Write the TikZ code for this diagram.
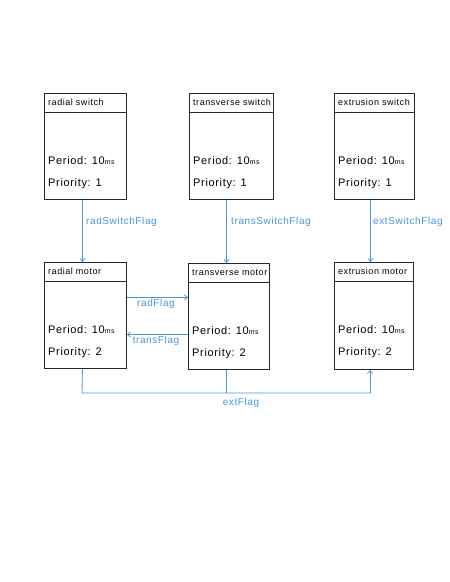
\documentclass[tikz,border=0pt]{standalone}
\usepackage{fontspec}
\setmainfont{Liberation Sans}
\newfontfamily\hand[LetterSpace=6]{Liberation Sans}
\usetikzlibrary{arrows.meta}
\definecolor{flowblue}{RGB}{74,150,220}
\tikzset{
  x=1pt,y=-1pt,
  taskframe/.style={draw=black!85,line width=0.9pt,anchor=north west,inner sep=0pt},
  titletext/.style={anchor=west,inner sep=0pt,font=\hand\fontsize{9}{10}\selectfont},
  bodytext/.style={anchor=west,inner sep=0pt,font=\hand\fontsize{11}{12}\selectfont},
  flow/.style={draw=flowblue,line width=0.8pt,-{Straight Barb[length=3pt,width=5pt]}},
  flowline/.style={draw=flowblue,line width=0.8pt},
  flowlabel/.style={text=flowblue,inner sep=0pt,font=\hand\fontsize{10}{11}\selectfont},
}
\newcommand{\taskbox}[7]{% name, x, y, w, h, title, prio
  \node[taskframe,minimum width=#4pt,minimum height=#5pt] (#1) at (#2,#3) {};
  \draw[black!85,line width=0.9pt] ([yshift=-19pt]#1.north west) -- ([yshift=-19pt]#1.north east);
  \node[titletext] (#1-t) at ([xshift=4pt,yshift=-9.5pt]#1.north west) {#6};
  \node[bodytext] (#1-p) at ([xshift=4pt,yshift=-68pt]#1.north west) {Period: 10{\fontsize{7}{8}\selectfont ms}};
  \node[bodytext] (#1-q) at ([xshift=4pt,yshift=-91pt]#1.north west) {Priority: #7};
}
\begin{document}
\begin{tikzpicture}
\useasboundingbox[fill=white] (0,0) rectangle (450,582);
\taskbox{rs}{44}{93}{82}{106}{radial switch}{1}
\taskbox{ts}{189}{93}{84}{106}{transverse switch}{1}
\taskbox{es}{334}{93}{80}{106}{extrusion switch}{1}
\taskbox{rm}{44}{262}{82}{106}{radial motor}{2}
\taskbox{tm}{188}{263}{81}{106}{transverse motor}{2}
\taskbox{em}{334}{262}{79}{107}{extrusion motor}{2}
% switch flags
\draw[flow] ([xshift=-3pt]rs.south) -- ([xshift=-3pt]rs.south |- rm.north);
\node[flowlabel,anchor=west] (l1) at (86,222) {radSwitchFlag};
\draw[flow] ([xshift=-5pt]ts.south) -- ([xshift=-5pt]ts.south |- tm.north);
\node[flowlabel,anchor=west] (l2) at (231,222) {transSwitchFlag};
\draw[flow] ([xshift=-4pt]es.south) -- ([xshift=-4pt]es.south |- em.north);
\node[flowlabel,anchor=west] (l3) at (373,222) {extSwitchFlag};
% motor flags
\draw[flow] ([yshift=18pt]rm.east) -- ([yshift=18pt]rm.east -| tm.west);
\node[flowlabel] (l4) at (156,304) {radFlag};
\draw[flow] ([yshift=-18pt]tm.west) -- ([yshift=-18pt]tm.west -| rm.east);
\node[flowlabel] (l5) at (156,341) {transFlag};
\coordinate (j1) at (82,393);
\coordinate (j2) at (370,393);
\draw[flowline] ([xshift=-3pt]rm.south) -- (j1) -- (j2);
\draw[flow] (j2) -- (j2 |- em.south);
\draw[flowline] ([xshift=-3pt]tm.south) -- ([xshift=-3pt]tm.south |- j1);
\node[flowlabel] (l6) at (241,403) {extFlag};
\end{tikzpicture}
\end{document}
